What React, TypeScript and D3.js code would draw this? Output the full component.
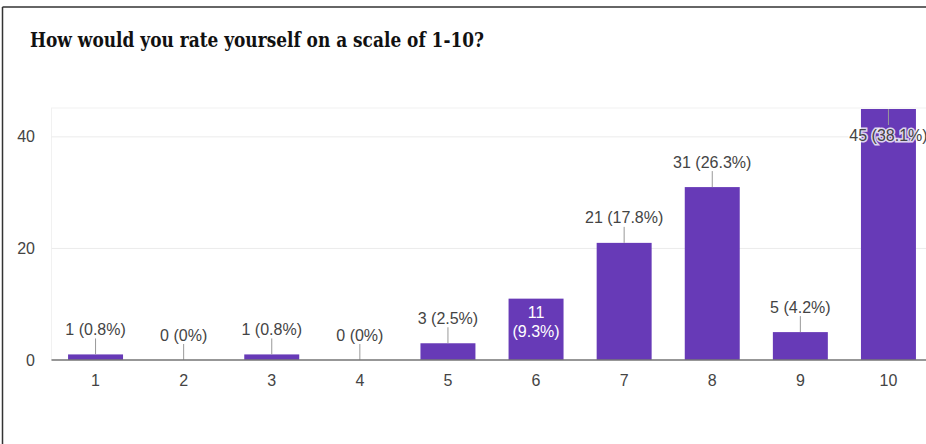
import React from "react";
import * as d3 from "d3";

const TITLE = "How would you rate yourself on a scale of 1-10?";
const categories = ["1", "2", "3", "4", "5", "6", "7", "8", "9", "10"];
const counts = [1, 0, 1, 0, 3, 11, 21, 31, 5, 45];
const percents = ["0.8%", "0%", "0.8%", "0%", "2.5%", "9.3%", "17.8%", "26.3%", "4.2%", "38.1%"];
const labelModes = ["above", "above", "above", "above", "above", "inside2", "above", "above", "above", "insideTop"];
const yTicks = [0, 20, 40];

const W = 926;
const H = 444;
const plotLeft = 51.5;
const plotRight = 932.5;
const plotTop = 109;
const plotBottom = 360;
const FONT = "Arial, 'Liberation Sans', sans-serif";
const BAR = "#673ab7";
const TEXT = "#444";

export default function App() {
  const x = d3.scaleBand<string>().domain(categories).range([plotLeft, plotRight]).paddingInner(0.376).paddingOuter(0.188);
  const y = d3.scaleLinear().domain([0, d3.max(counts) as number]).range([plotBottom, plotTop]);

  return (
    <svg width={W} height={H} style={{ position: "absolute", left: 0, top: 0, background: "#fff" }}>
      <rect x={0} y={0} width={W} height={H} fill="#fff" />
      {/* outer card border */}
      <line x1={2.5} x2={W} y1={7} y2={7} stroke="#333" strokeWidth={1.5} />
      <line x1={2.5} x2={2.5} y1={7} y2={H} stroke="#333" strokeWidth={1.5} />
      <text x={30} y={47} fontFamily="'DejaVu Serif', 'Liberation Serif', serif" fontWeight="bold" fontSize={20.5} fill="#111" textLength={454} lengthAdjust="spacingAndGlyphs">
        {TITLE}
      </text>
      {/* plot area frame */}
      <rect x={plotLeft} y={plotTop - 1} width={plotRight - plotLeft} height={plotBottom - plotTop + 1} fill="none" stroke="#f1f1f1" />
      {yTicks.map((t) => (
        <g key={t}>
          {t !== 0 && <line x1={plotLeft} x2={plotRight} y1={y(t)} y2={y(t)} stroke="#ebebeb" />}
          <text x={35} y={y(t) + 5.5} textAnchor="end" fontFamily={FONT} fontSize={16} fill={TEXT}>
            {t}
          </text>
        </g>
      ))}
      {categories.map((c, i) => {
        const bx = x(c) as number;
        const bw = x.bandwidth();
        const cx = bx + bw / 2;
        const top = y(counts[i]);
        const mode = labelModes[i];
        const label = `${counts[i]} (${percents[i]})`;
        return (
          <g key={c}>
            {counts[i] > 0 && <rect x={bx} y={top} width={bw} height={plotBottom - top} fill={BAR} />}
            {mode === "above" && (
              <>
                <line x1={cx} x2={cx} y1={top - 16} y2={top} stroke="#999" />
                <text x={cx} y={top - 19.5} textAnchor="middle" fontFamily={FONT} fontSize={16} fill={TEXT}>
                  {label}
                </text>
              </>
            )}
            {mode === "inside2" && (
              <text textAnchor="middle" fontFamily={FONT} fontSize={16} fill="#fff">
                <tspan x={cx} y={top + 19}>{counts[i]}</tspan>
                <tspan x={cx} y={top + 38.5}>({percents[i]})</tspan>
              </text>
            )}
            {mode === "insideTop" && (
              <>
                <line x1={cx} x2={cx} y1={top} y2={top + 16} stroke="#999" />
                <text x={cx} y={top + 32} textAnchor="middle" fontFamily={FONT} fontSize={16} fill={TEXT} stroke="#fff" strokeWidth={3} strokeOpacity={0.8} style={{ paintOrder: "stroke" }}>
                  {label}
                </text>
              </>
            )}
            <text x={cx} y={386} textAnchor="middle" fontFamily={FONT} fontSize={16} fill={TEXT}>
              {c}
            </text>
          </g>
        );
      })}
      <line x1={plotLeft} x2={plotRight} y1={plotBottom} y2={plotBottom} stroke="#777" strokeWidth={1.5} />
    </svg>
  );
}
